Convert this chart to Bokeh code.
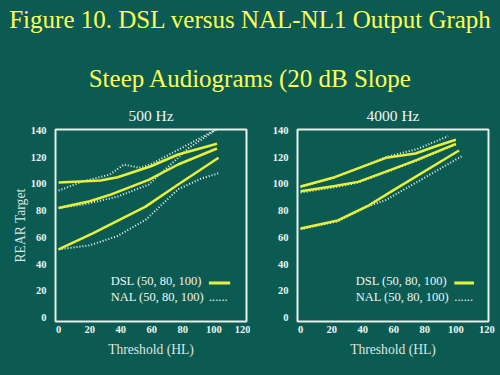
from bokeh.plotting import figure
from bokeh.layouts import column, row
from bokeh.models import Range1d, FixedTicker, Label, BoxAnnotation
from bokeh.embed import file_html
from bokeh.resources import INLINE

# ---------------- data ----------------
x_ticks = [0, 20, 40, 60, 80, 100, 120]
y_ticks = [0, 20, 40, 60, 80, 100, 120, 140]

# 500 Hz panel
dsl500_top_x = [0, 27, 38, 59, 77, 102]
dsl500_top_y = [101, 102.5, 105, 113, 122, 130]
dsl500_mid_x = [0, 20, 33.5, 58, 77, 102]
dsl500_mid_y = [82, 87, 92, 103, 114.5, 126.5]
dsl500_low_x = [0, 22, 56, 77, 103]
dsl500_low_y = [51, 63, 83, 99.5, 119.5]

nal500_top_x = [0, 16, 33, 42, 52, 59, 77, 102]
nal500_top_y = [95, 102, 107, 114.5, 112, 114.5, 125.5, 141]
nal500_mid_x = [0, 16, 38, 58, 84, 102]
nal500_mid_y = [82, 84.5, 90.5, 99.5, 127, 141]
nal500_low_x = [0, 20, 38, 56, 77, 92, 103]
nal500_low_y = [51, 54, 61, 73, 96, 104, 108]

# 4000 Hz panel
dsl4k_top_x = [0, 22, 55, 74, 88, 100]
dsl4k_top_y = [98, 105, 119.5, 122.7, 128.5, 133]
dsl4k_mid_x = [0, 22, 37, 58, 75, 100]
dsl4k_mid_y = [94.5, 98.4, 101.5, 110.5, 118, 130]
dsl4k_low_x = [0, 24, 43, 58, 102]
dsl4k_low_y = [66.6, 72.6, 83.3, 94, 125]

nal4k_top_x = [0, 22, 55, 75, 95]
nal4k_top_y = [97.5, 105, 120, 126, 135.7]
nal4k_mid_x = [0, 22, 37, 58, 75, 100]
nal4k_mid_y = [93.5, 97.5, 101, 110, 117.5, 129.5]
nal4k_low_x = [0, 24, 43, 55, 104]
nal4k_low_y = [66, 72, 83, 88, 120.8]

title1 = "Figure 10. DSL versus NAL-NL1 Output Graph"
title2 = "Steep Audiograms (20 dB Slope"
panel_titles = ["500 Hz", "4000 Hz"]
legend_dsl = "DSL (50, 80, 100)"
legend_nal = "NAL (50, 80, 100)"

# ---------------- style ----------------
BG = "#0b5b52"
YEL = "#e8f03a"
TITLE_YEL = "#ffff55"
WHITE = "#f2f5f2"
LIGHT = "#dde6e2"
FONT = "Liberation Serif"

# header
HH = 98
header = figure(width=500, height=HH, x_range=Range1d(0, 500), y_range=Range1d(0, HH),
                output_backend="svg", toolbar_location=None, min_border=0)
header.axis.visible = False
header.grid.visible = False
header.outline_line_color = None
header.background_fill_color = BG
header.border_fill_color = BG
header.add_layout(Label(x=250, y=HH - 19, text=title1, text_align="center", text_baseline="alphabetic",
                        text_font=FONT, text_font_size="25px", text_color=TITLE_YEL))
header.add_layout(Label(x=250, y=HH - 78, text=title2, text_align="center", text_baseline="alphabetic",
                        text_font=FONT, text_font_size="25px", text_color=TITLE_YEL))


def make_panel(title, series_dsl, series_nal, ylabel, leg_x, bar_l, bar_r, bl, br):
    p = figure(frame_width=191, frame_height=192, x_range=Range1d(-2, 121), y_range=Range1d(-3, 140.7),
               output_backend="svg", toolbar_location=None,
               min_border_left=bl, min_border_right=br, min_border_top=27, min_border_bottom=45)
    p.background_fill_color = BG
    p.border_fill_color = BG
    p.outline_line_color = "#e8f0ec"
    p.outline_line_width = 2
    p.grid.visible = False
    p.title.text = title
    p.title.align = "center"
    p.title.text_font = FONT
    p.title.text_font_size = "15.5px"
    p.title.text_font_style = "normal"
    p.title.text_color = WHITE
    p.title.standoff = 12
    for ax in (p.xaxis[0], p.yaxis[0]):
        ax.axis_line_color = None
        ax.major_tick_line_color = None
        ax.minor_tick_line_color = None
        ax.major_tick_out = 0
        ax.major_tick_in = 0
        ax.minor_tick_out = 0
        ax.minor_tick_in = 0
        ax.major_label_text_font = FONT
        ax.major_label_text_font_size = "10.5px"
        ax.major_label_text_font_style = "bold"
        ax.major_label_text_color = WHITE
        ax.axis_label_text_font = FONT
        ax.axis_label_text_font_style = "normal"
        ax.axis_label_text_color = LIGHT
        ax.axis_label_text_font_size = "13.6px"
    p.xaxis.ticker = FixedTicker(ticks=x_ticks)
    p.yaxis.ticker = FixedTicker(ticks=y_ticks)
    p.xaxis.major_label_standoff = 4
    p.yaxis.major_label_standoff = 9
    p.xaxis.axis_label = "Threshold (HL)"
    p.xaxis.axis_label_standoff = 6
    if ylabel:
        p.yaxis.axis_label = ylabel
        p.yaxis.axis_label_standoff = 0

    for xs, ys in series_nal:
        p.line(xs, ys, line_color=WHITE, line_width=2, line_dash="1 2")
    for xs, ys in series_dsl:
        p.line(xs, ys, line_color=YEL, line_width=2.5)

    p.add_layout(Label(x=leg_x, y=27, text=legend_dsl, text_align="left", text_baseline="middle",
                       text_font=FONT, text_font_size="12.5px", text_color=WHITE))
    p.add_layout(Label(x=leg_x, y=15.7, text=legend_nal, text_align="left", text_baseline="middle",
                       text_font=FONT, text_font_size="12.5px", text_color=WHITE))
    p.add_layout(Label(x=bar_l, y=15.7, text="......", text_align="left", text_baseline="middle",
                       text_font=FONT, text_font_size="12.5px", text_color=WHITE))
    p.add_layout(BoxAnnotation(left=bar_l, right=bar_r, bottom=24.7, top=26.9,
                               fill_color=YEL, fill_alpha=1, line_color=None))
    return p


p1 = make_panel(panel_titles[0],
                [(dsl500_top_x, dsl500_top_y), (dsl500_mid_x, dsl500_mid_y), (dsl500_low_x, dsl500_low_y)],
                [(nal500_top_x, nal500_top_y), (nal500_mid_x, nal500_mid_y), (nal500_low_x, nal500_low_y)],
                "REAR Target", 33.5, 96.8, 110.5, 55, 4)
p2 = make_panel(panel_titles[1],
                [(dsl4k_top_x, dsl4k_top_y), (dsl4k_mid_x, dsl4k_mid_y), (dsl4k_low_x, dsl4k_low_y)],
                [(nal4k_top_x, nal4k_top_y), (nal4k_mid_x, nal4k_mid_y), (nal4k_low_x, nal4k_low_y)],
                None, 35.5, 99, 111.7, 47, 12)

layout = column(header, row(p1, p2, spacing=0), spacing=0)
layout.styles = {"background-color": BG}

html = file_html(layout, INLINE, title="DSL vs NAL-NL1")
html = html.replace("<body>", '<body style="background-color:%s;">' % BG, 1)
html = html.replace("<html", '<html style="background-color:%s;"' % BG, 1)
open("out.html", "w").write(html)
